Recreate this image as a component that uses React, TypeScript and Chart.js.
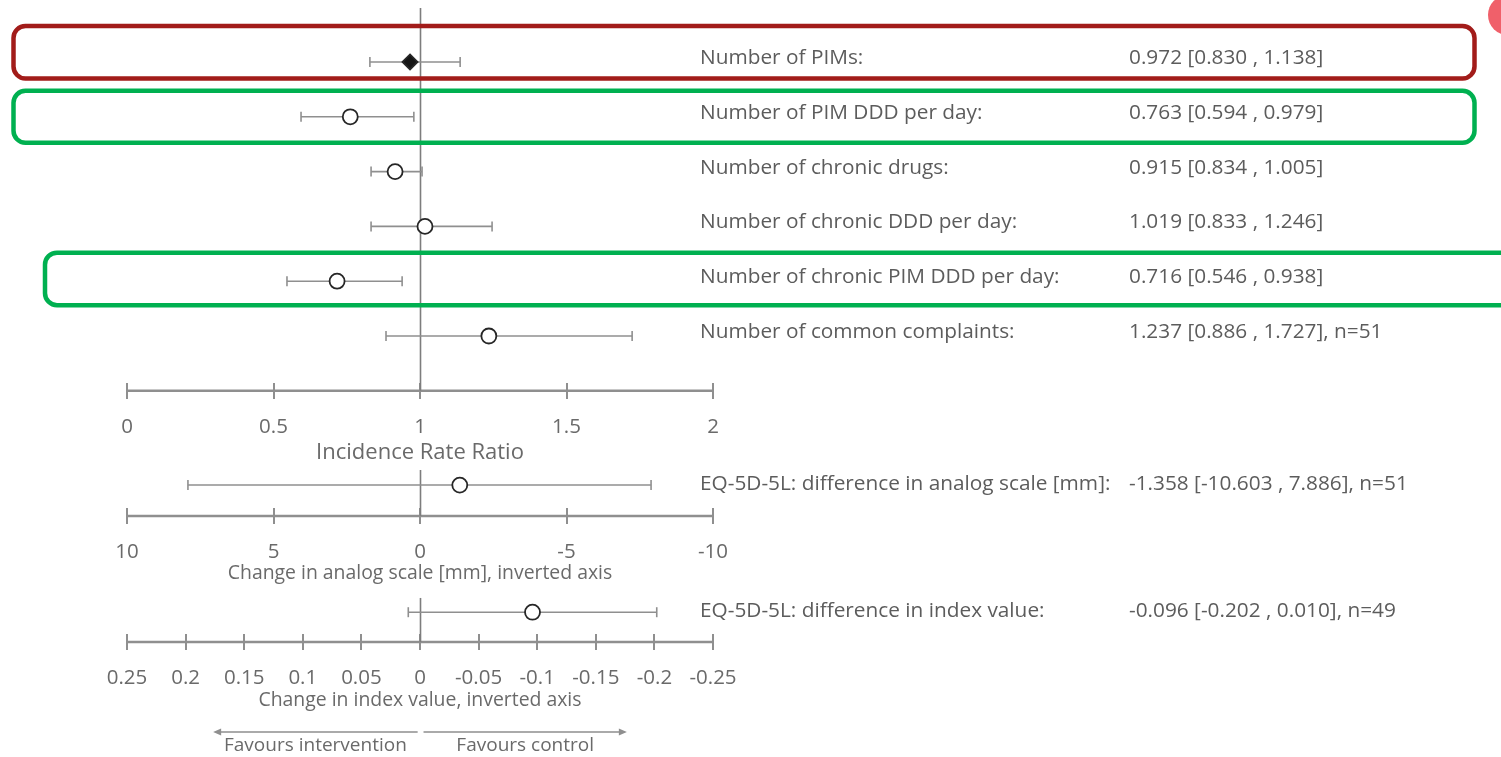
import React, { useEffect, useRef } from 'react';
import { Chart, registerables } from 'chart.js';

Chart.register(...registerables);

// ---------- data ----------
const irrLabels = [
  'Number of PIMs:',
  'Number of PIM DDD per day:',
  'Number of chronic drugs:',
  'Number of chronic DDD per day:',
  'Number of chronic PIM DDD per day:',
  'Number of common complaints:',
];
const irrValueTexts = [
  '0.972 [0.830 , 1.138]',
  '0.763 [0.594 , 0.979]',
  '0.915 [0.834 , 1.005]',
  '1.019 [0.833 , 1.246]',
  '0.716 [0.546 , 0.938]',
  '1.237 [0.886 , 1.727], n=51',
];
const irrEstimates = [0.966, 0.762, 0.915, 1.017, 0.717, 1.235];
const irrLower = [0.829, 0.594, 0.833, 0.833, 0.546, 0.884];
const irrUpper = [1.137, 0.979, 1.007, 1.246, 0.939, 1.724];

const analogLabel = 'EQ-5D-5L: difference in analog scale [mm]:';
const analogValueText = '-1.358 [-10.603 , 7.886], n=51';
const analogEstimate = [-1.358];
const analogLower = [-7.886];
const analogUpper = [7.92];

const indexLabel = 'EQ-5D-5L: difference in index value:';
const indexValueText = '-0.096 [-0.202 , 0.010], n=49';
const indexEstimate = [-0.096];
const indexLower = [-0.202];
const indexUpper = [0.01];

const irrTicks = [0, 0.5, 1, 1.5, 2];
const analogTicks = [10, 5, 0, -5, -10];
const indexTicks = [0.25, 0.2, 0.15, 0.1, 0.05, 0, -0.05, -0.1, -0.15, -0.2, -0.25];

const irrTitle = 'Incidence Rate Ratio';
const analogTitle = 'Change in analog scale [mm], inverted axis';
const indexTitle = 'Change in index value, inverted axis';
const favoursLeft = 'Favours intervention';
const favoursRight = 'Favours control';

// ---------- layout (row units on the hidden y scale) ----------
const Y_MIN = -1.131;
const Y_MAX = 12.682;
const irrRows = [0, 1, 2, 3, 4, 5];
const ANALOG_ROW = 7.72;
const INDEX_ROW = 10.04;
const IRR_AXIS = 6.0;
const ANALOG_AXIS = 8.285;
const INDEX_AXIS = 10.585;
const TICK_HALF = 0.146;
const LABEL_X = 700;
const VALUE_X = 1129;

const FONT = "'Open Sans', 'Noto Sans', sans-serif";
const TEXT = '#5c5c5c';
const AXIS = '#8f8f8f';

const fmt = (v: number) => String(Number(Number(v).toFixed(3)));

function axisOpts(min: number, max: number, reverse: boolean, ticks: number[], axisVal: number, title: string, titleSize: number, titlePad: number) {
  return {
    type: 'linear' as const,
    axis: 'x' as const,
    min,
    max,
    reverse,
    position: { y: axisVal - TICK_HALF },
    afterBuildTicks: (s: any) => {
      s.ticks = ticks.map((v) => ({ value: v }));
    },
    grid: { drawOnChartArea: false, drawTicks: true, tickLength: 16, color: AXIS, lineWidth: 2 },
    border: { display: false },
    ticks: {
      font: { family: FONT, size: 20.5 },
      color: '#6a6a6a',
      padding: 16,
      maxRotation: 0,
      autoSkip: false,
      callback: (v: any) => fmt(v),
    },
    title: {
      display: true,
      text: title,
      font: { family: FONT, size: titleSize },
      color: '#6a6a6a',
      padding: { top: titlePad, bottom: 0 },
    },
  };
}

const decor = {
  id: 'decor',
  beforeDatasetsDraw(chart: any) {
    const { ctx } = chart;
    const y = chart.scales.y;
    const sx = chart.scales.x;
    const sx2 = chart.scales.x2;
    const sx3 = chart.scales.x3;
    ctx.save();
    // horizontal axis lines
    ctx.strokeStyle = AXIS;
    ctx.lineWidth = 2.5;
    const axes: [any, number, number, number][] = [
      [sx, irrTicks[0], irrTicks[irrTicks.length - 1], IRR_AXIS],
      [sx2, analogTicks[0], analogTicks[analogTicks.length - 1], ANALOG_AXIS],
      [sx3, indexTicks[0], indexTicks[indexTicks.length - 1], INDEX_AXIS],
    ];
    for (const [s, a, b, v] of axes) {
      const py = y.getPixelForValue(v);
      ctx.beginPath();
      ctx.moveTo(s.getPixelForValue(a), py);
      ctx.lineTo(s.getPixelForValue(b), py);
      ctx.stroke();
    }
    // reference lines
    ctx.strokeStyle = '#7d7d7d';
    ctx.lineWidth = 1.6;
    const refs: [any, number, number, number][] = [
      [sx, 1, -0.985, IRR_AXIS],
      [sx2, 0, 7.445, ANALOG_AXIS],
      [sx3, 0, 9.78, INDEX_AXIS],
    ];
    for (const [s, v, a, b] of refs) {
      const px = Math.round(s.getPixelForValue(v)) + 0.5;
      ctx.beginPath();
      ctx.moveTo(px, y.getPixelForValue(a));
      ctx.lineTo(px, y.getPixelForValue(b));
      ctx.stroke();
    }
    ctx.restore();
  },
  afterDraw(chart: any) {
    const { ctx } = chart;
    const y = chart.scales.y;
    const sx = chart.scales.x;
    ctx.save();
    // row texts
    ctx.fillStyle = TEXT;
    ctx.font = `20.8px ${FONT}`;
    ctx.textBaseline = 'middle';
    ctx.textAlign = 'left';
    irrRows.forEach((r, i) => {
      const py = y.getPixelForValue(r) - 4;
      ctx.fillText(irrLabels[i], LABEL_X, py);
      ctx.fillText(irrValueTexts[i], VALUE_X, py);
    });
    const pa = y.getPixelForValue(ANALOG_ROW) - 1;
    ctx.fillText(analogLabel, LABEL_X, pa);
    ctx.fillText(analogValueText, VALUE_X, pa);
    const pi = y.getPixelForValue(INDEX_ROW) - 1;
    ctx.fillText(indexLabel, LABEL_X, pi);
    ctx.fillText(indexValueText, VALUE_X, pi);

    // favours arrows
    const ay = y.getPixelForValue(INDEX_AXIS) + 90;
    const xl = sx.getPixelForValue(0.294);
    const xm1 = sx.getPixelForValue(0.992);
    const xm2 = sx.getPixelForValue(1.012);
    const xr = sx.getPixelForValue(1.706);
    ctx.strokeStyle = AXIS;
    ctx.fillStyle = AXIS;
    ctx.lineWidth = 1.5;
    ctx.beginPath();
    ctx.moveTo(xm1, ay);
    ctx.lineTo(xl + 6, ay);
    ctx.moveTo(xm2, ay);
    ctx.lineTo(xr - 6, ay);
    ctx.stroke();
    ctx.beginPath();
    ctx.moveTo(xl, ay);
    ctx.lineTo(xl + 8, ay - 3.5);
    ctx.lineTo(xl + 8, ay + 3.5);
    ctx.closePath();
    ctx.moveTo(xr, ay);
    ctx.lineTo(xr - 8, ay - 3.5);
    ctx.lineTo(xr - 8, ay + 3.5);
    ctx.closePath();
    ctx.fill();
    ctx.fillStyle = '#6a6a6a';
    ctx.font = `19px ${FONT}`;
    ctx.textAlign = 'center';
    ctx.fillText(favoursLeft, (xl + xm1) / 2, ay + 14);
    ctx.fillText(favoursRight, (xm2 + xr) / 2, ay + 14);

    // highlight boxes
    const box = (x1: number, y1: number, x2: number, y2: number, color: string) => {
      ctx.strokeStyle = color;
      ctx.lineWidth = 4.5;
      ctx.beginPath();
      ctx.roundRect(x1, y1, x2 - x1, y2 - y1, 12);
      ctx.stroke();
    };
    const r0 = y.getPixelForValue(irrRows[0]);
    const r1 = y.getPixelForValue(irrRows[1]);
    const r4 = y.getPixelForValue(irrRows[4]);
    box(13.5, r0 - 36, 1474.5, r0 + 16.5, '#a21c1a');
    box(13.5, r1 - 26, 1474.5, r1 + 26, '#00b050');
    box(45, r4 - 28.5, 1520, r4 + 24, '#00b050');

    // corner badge
    ctx.fillStyle = '#f0606a';
    ctx.beginPath();
    ctx.arc(1508, 15, 20, 0, Math.PI * 2);
    ctx.fill();
    ctx.restore();
  },
};

export default function App() {
  const ref = useRef<HTMLCanvasElement | null>(null);
  useEffect(() => {
    document.body.style.margin = '0';
    document.body.style.background = '#ffffff';
    const canvas = ref.current;
    if (!canvas) return;

    const datasets: any[] = [];
    const addSeries = (axisId: string, est: number[], lo: number[], hi: number[], rows: number[], diamondFirst: boolean) => {
      est.forEach((e, i) => {
        const r = rows[i];
        const diamond = diamondFirst && i === 0;
        datasets.push({
          type: 'scatter',
          xAxisID: axisId,
          yAxisID: 'y',
          order: 0,
          data: [{ x: e, y: r }],
          pointStyle: diamond ? 'rectRot' : 'circle',
          pointRadius: 7.5,
          backgroundColor: diamond ? '#151515' : '#ffffff',
          borderColor: '#262626',
          borderWidth: 1.8,
        });
        datasets.push({
          type: 'line',
          xAxisID: axisId,
          yAxisID: 'y',
          order: 1,
          data: [
            { x: lo[i], y: r },
            { x: hi[i], y: r },
          ],
          borderColor: AXIS,
          borderWidth: 1.6,
          pointStyle: 'line',
          rotation: 90,
          pointRadius: 5,
          pointBorderColor: AXIS,
          pointBorderWidth: 1.6,
          fill: false,
        });
      });
    };
    addSeries('x', irrEstimates, irrLower, irrUpper, irrRows, true);
    addSeries('x2', analogEstimate, analogLower, analogUpper, [ANALOG_ROW], false);
    addSeries('x3', indexEstimate, indexLower, indexUpper, [INDEX_ROW], false);

    const chart = new Chart(canvas, {
      type: 'scatter',
      data: { datasets },
      options: {
        responsive: false,
        animation: false,
        layout: { autoPadding: false, padding: { left: 127, right: 788, top: 0, bottom: 0 } },
        plugins: { legend: { display: false }, tooltip: { enabled: false } },
        scales: {
          y: { type: 'linear', display: false, min: Y_MIN, max: Y_MAX, reverse: true },
          x: axisOpts(0, 2, false, irrTicks, IRR_AXIS, irrTitle, 22, -16),
          x2: axisOpts(-10, 10, true, analogTicks, ANALOG_AXIS, analogTitle, 19.4, -19),
          x3: axisOpts(-0.25, 0.25, true, indexTicks, INDEX_AXIS, indexTitle, 19.4, -18),
        } as any,
      },
      plugins: [decor],
    } as any);
    return () => chart.destroy();
  }, []);

  return (
    <div style={{ position: 'fixed', left: 0, top: 0, width: 1501, height: 757, background: '#fff' }}>
      <canvas ref={ref} width={1501} height={757} style={{ width: 1501, height: 757, display: 'block' }} />
    </div>
  );
}
